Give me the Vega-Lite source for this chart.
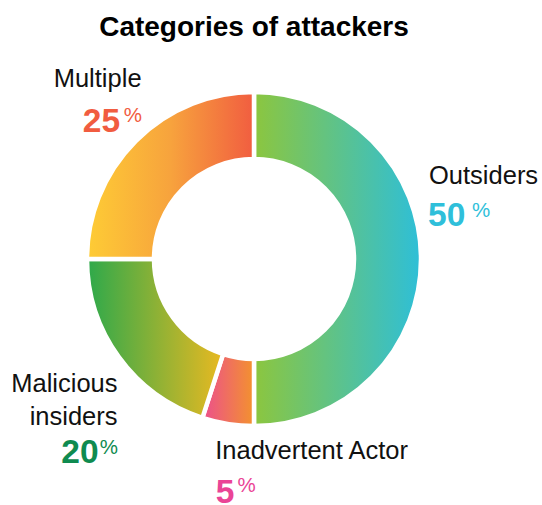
{
  "$schema": "https://vega.github.io/schema/vega-lite/v6.json",
  "autosize": "none",
  "width": 508,
  "height": 418,
  "padding": {"left": 0, "top": 50, "right": 34, "bottom": 37},
  "background": "white",
  "title": {"text": "Categories of attackers", "font": "Liberation Sans", "fontSize": 28, "fontWeight": "bold", "color": "#000", "anchor": "middle", "baseline": "alphabetic", "offset": 13, "dy": 37},
  "config": {"view": {"stroke": null}},
  "data": {"values": [
    {"cat": "Outsiders", "label": "Outsiders", "value": 50, "ord": 1},
    {"cat": "Inadvertent", "label": "Inadvertent Actor", "value": 5, "ord": 2},
    {"cat": "Malicious", "label": "Malicious\ninsiders", "value": 20, "ord": 3},
    {"cat": "Multiple", "label": "Multiple", "value": 25, "ord": 4}
  ]},
  "encoding": {
    "theta": {"field": "value", "type": "quantitative", "stack": true},
    "order": {"field": "ord", "type": "quantitative"}
  },
  "layer": [
    {"mark": {"type": "arc", "outerRadius": 167, "innerRadius": 100, "stroke": "white", "strokeWidth": 4.5,
      "fill": {"gradient": "linear", "x1": 0, "y1": 0, "x2": 1, "y2": 0, "stops": [{"offset": 0, "color": "#8cc63e"}, {"offset": 1, "color": "#2ebfd8"}]}},
     "encoding": {"opacity": {"condition": {"test": "datum.cat === 'Outsiders'", "value": 1}, "value": 0}}},
    {"mark": {"type": "arc", "outerRadius": 167, "innerRadius": 100, "stroke": "white", "strokeWidth": 4.5,
      "fill": {"gradient": "linear", "x1": 0, "y1": 0, "x2": 1, "y2": 0, "stops": [{"offset": 0, "color": "#ec4f8d"}, {"offset": 1, "color": "#f3922e"}]}},
     "encoding": {"opacity": {"condition": {"test": "datum.cat === 'Inadvertent'", "value": 1}, "value": 0}}},
    {"mark": {"type": "arc", "outerRadius": 167, "innerRadius": 100, "stroke": "white", "strokeWidth": 4.5,
      "fill": {"gradient": "linear", "x1": 0, "y1": 0, "x2": 1, "y2": 0, "stops": [{"offset": 0, "color": "#2da94b"}, {"offset": 1, "color": "#e9b921"}]}},
     "encoding": {"opacity": {"condition": {"test": "datum.cat === 'Malicious'", "value": 1}, "value": 0}}},
    {"mark": {"type": "arc", "outerRadius": 167, "innerRadius": 100, "stroke": "white", "strokeWidth": 4.5,
      "fill": {"gradient": "linear", "x1": 0, "y1": 0, "x2": 1, "y2": 0, "stops": [{"offset": 0, "color": "#fecc35"}, {"offset": 0.5, "color": "#f7a33d"}, {"offset": 1, "color": "#f15d40"}]}},
     "encoding": {"opacity": {"condition": {"test": "datum.cat === 'Multiple'", "value": 1}, "value": 0}}},

    {"mark": {"type": "text", "radius": 175, "align": "left", "baseline": "alphabetic", "dx": 0, "dy": -75, "font": "Liberation Sans", "fontSize": 25.5, "color": "#111"},
     "encoding": {"text": {"condition": {"test": "datum.cat === 'Outsiders'", "field": "label", "type": "nominal"}, "value": ""}}},
    {"mark": {"type": "text", "radius": 175, "align": "left", "baseline": "alphabetic", "dx": -1, "dy": -33, "font": "Liberation Sans", "fontSize": 33.5, "fontWeight": "bold", "color": "#2fbfda"},
     "encoding": {"text": {"condition": {"test": "datum.cat === 'Outsiders'", "field": "value", "type": "quantitative"}, "value": ""}}},
    {"mark": {"type": "text", "radius": 175, "align": "left", "baseline": "alphabetic", "dx": 43, "dy": -42, "font": "Liberation Sans", "fontSize": 20.5, "color": "#2fbfda"},
     "encoding": {"text": {"condition": {"test": "datum.cat === 'Outsiders'", "value": "%"}, "value": ""}}},

    {"mark": {"type": "text", "radius": 159, "align": "right", "baseline": "alphabetic", "dx": 0, "dy": -59.3, "font": "Liberation Sans", "fontSize": 25.5, "color": "#111"},
     "encoding": {"text": {"condition": {"test": "datum.cat === 'Multiple'", "field": "label", "type": "nominal"}, "value": ""}}},
    {"mark": {"type": "text", "radius": 159, "align": "right", "baseline": "alphabetic", "dx": -21.5, "dy": -14.3, "font": "Liberation Sans", "fontSize": 33.5, "fontWeight": "bold", "color": "#f15c40"},
     "encoding": {"text": {"condition": {"test": "datum.cat === 'Multiple'", "field": "value", "type": "quantitative"}, "value": ""}}},
    {"mark": {"type": "text", "radius": 159, "align": "right", "baseline": "alphabetic", "dx": 0.5, "dy": -25, "font": "Liberation Sans", "fontSize": 20.5, "color": "#f15c40"},
     "encoding": {"text": {"condition": {"test": "datum.cat === 'Multiple'", "value": "%"}, "value": ""}}},

    {"mark": {"type": "text", "radius": 168.7, "align": "right", "baseline": "alphabetic", "dx": 0, "dy": 33.5, "lineHeight": 33.3, "lineBreak": "\n", "font": "Liberation Sans", "fontSize": 25.5, "color": "#111"},
     "encoding": {"text": {"condition": {"test": "datum.cat === 'Malicious'", "field": "label", "type": "nominal"}, "value": ""}}},
    {"mark": {"type": "text", "radius": 168.7, "align": "right", "baseline": "alphabetic", "dx": -19, "dy": 105, "font": "Liberation Sans", "fontSize": 33.5, "fontWeight": "bold", "color": "#0f8b50"},
     "encoding": {"text": {"condition": {"test": "datum.cat === 'Malicious'", "field": "value", "type": "quantitative"}, "value": ""}}},
    {"mark": {"type": "text", "radius": 168.7, "align": "right", "baseline": "alphabetic", "dx": 0.5, "dy": 95.5, "font": "Liberation Sans", "fontSize": 20.5, "color": "#0f8b50"},
     "encoding": {"text": {"condition": {"test": "datum.cat === 'Malicious'", "value": "%"}, "value": ""}}},

    {"mark": {"type": "text", "radius": 235, "align": "left", "baseline": "alphabetic", "dx": -2, "dy": -31.8, "font": "Liberation Sans", "fontSize": 25.5, "color": "#111"},
     "encoding": {"text": {"condition": {"test": "datum.cat === 'Inadvertent'", "field": "label", "type": "nominal"}, "value": ""}}},
    {"mark": {"type": "text", "radius": 235, "align": "left", "baseline": "alphabetic", "dx": -1.5, "dy": 12.2, "font": "Liberation Sans", "fontSize": 33.5, "fontWeight": "bold", "color": "#ea4496"},
     "encoding": {"text": {"condition": {"test": "datum.cat === 'Inadvertent'", "field": "value", "type": "quantitative"}, "value": ""}}},
    {"mark": {"type": "text", "radius": 235, "align": "left", "baseline": "alphabetic", "dx": 20.3, "dy": 1, "font": "Liberation Sans", "fontSize": 20.5, "color": "#ea4496"},
     "encoding": {"text": {"condition": {"test": "datum.cat === 'Inadvertent'", "value": "%"}, "value": ""}}}
  ]
}
